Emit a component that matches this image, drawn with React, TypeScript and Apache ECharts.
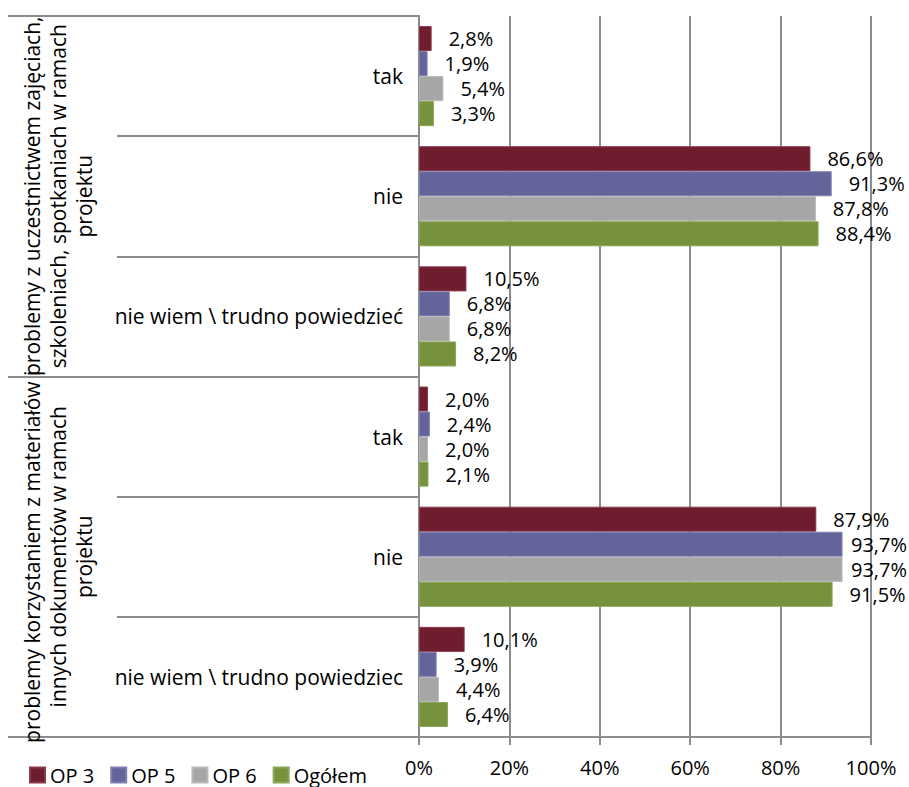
import React, { useEffect, useRef } from "react";
import * as echarts from "echarts";

const categories = [
  "tak",
  "nie",
  "nie wiem \\ trudno powiedzieć",
  "tak",
  "nie",
  "nie wiem \\ trudno powiedziec",
];
const groups = [
  "problemy z uczestnictwem zajęciach,\nszkoleniach, spotkaniach w ramach\nprojektu",
  "problemy korzystaniem z materiałów i\ninnych dokumentów w ramach\nprojektu",
];
const seriesNames = ["OP 3", "OP 5", "OP 6", "Ogółem"];
const op3 = [2.8, 86.6, 10.5, 2.0, 87.9, 10.1];
const op5 = [1.9, 91.3, 6.8, 2.4, 93.7, 3.9];
const op6 = [5.4, 87.8, 6.8, 2.0, 93.7, 4.4];
const ogolem = [3.3, 88.4, 8.2, 2.1, 91.5, 6.4];
const xTicks = { min: 0, max: 100, interval: 20 };

const colors = ["#6f1d2e", "#64649a", "#a6a6a6", "#76923c"];
const borders = ["#8a3a4a", "#7e7eb2", "#b8b8b8", "#8aa554"];
const FONT = "Open Sans";
const GRID = "#8c8c8c";

export default function App() {
  const ref = useRef<HTMLDivElement>(null);
  useEffect(() => {
    document.body.style.margin = "0";
    const chart = echarts.init(ref.current!, null, { renderer: "svg" });
    const values = [op3, op5, op6, ogolem];
    chart.setOption({
      animation: false,
      textStyle: { fontFamily: FONT },
      grid: { left: 419, top: 16, width: 452, height: 721 },
      legend: {
        data: seriesNames,
        left: 29,
        top: 765,
        padding: 0,
        icon: "rect",
        itemWidth: 15,
        itemHeight: 15,
        itemGap: 16,
        textStyle: { fontSize: 20, color: "#000", fontFamily: FONT },
      },
      xAxis: {
        type: "value",
        min: xTicks.min,
        max: xTicks.max,
        interval: xTicks.interval,
        axisLine: { show: true, lineStyle: { color: GRID, width: 2 } },
        axisTick: { show: true, length: 8, lineStyle: { color: GRID, width: 2 } },
        splitLine: { show: true, lineStyle: { color: GRID, width: 2 } },
        axisLabel: {
          formatter: "{value}%",
          fontSize: 20,
          color: "#000",
          margin: 20,
          fontFamily: FONT,
        },
      },
      yAxis: [
        {
          type: "category",
          data: categories,
          inverse: true,
          axisLine: { show: true, lineStyle: { color: GRID, width: 2 } },
          axisTick: { show: true, length: 302, lineStyle: { color: GRID, width: 2 } },
          axisLabel: {
            interval: 0,
            margin: 16,
            fontSize: 21,
            color: "#000",
            fontFamily: FONT,
          },
        },
        {
          type: "category",
          data: groups,
          inverse: true,
          position: "left",
          axisLine: { show: false },
          axisTick: { show: true, length: 411, lineStyle: { color: GRID, width: 2 } },
          axisLabel: {
            interval: 0,
            rotate: 90,
            margin: 322,
            fontSize: 21,
            lineHeight: 26,
            color: "#000",
            align: "center",
            fontFamily: FONT,
          },
        },
      ],
      series: seriesNames.map((name, i) => ({
        name,
        type: "bar",
        yAxisIndex: 0,
        data: values[i],
        barGap: "0%",
        barCategoryGap: "16.7%",
        itemStyle: { color: colors[i], borderColor: borders[i], borderWidth: 1 },
        label: {
          show: true,
          position: "right",
          distance: 17,
          fontSize: 20,
          color: "#000",
          fontFamily: FONT,
          formatter: (p: any) => p.value.toFixed(1).replace(".", ",") + "%",
        },
        labelLayout: (p: any) => {
          const r = p.labelRect;
          if (r.x + r.width > 907) {
            return {
              x: 907 - r.width,
              y: r.y + r.height / 2,
              align: "left",
              verticalAlign: "middle",
            };
          }
          return {};
        },
      })),
    });
    return () => chart.dispose();
  }, []);
  return <div ref={ref} style={{ width: 909, height: 787 }} />;
}
